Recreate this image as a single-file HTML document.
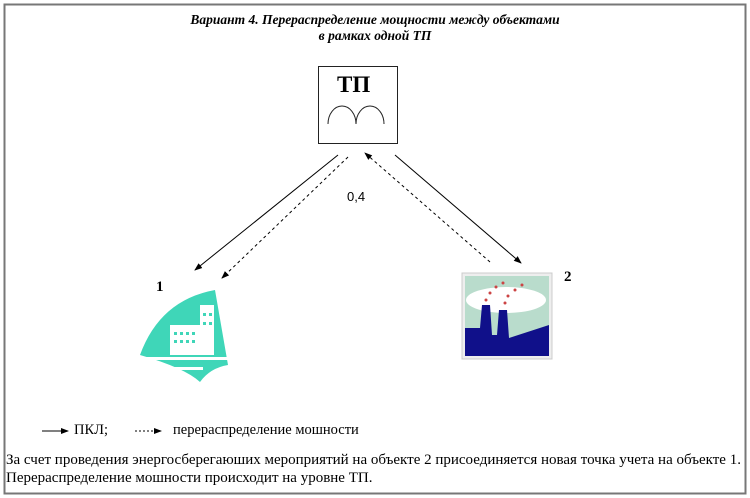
<!DOCTYPE html>
<html><head><meta charset="utf-8"><style>
body{margin:0;background:#fff;width:750px;height:498px;overflow:hidden;position:relative;font-family:"Liberation Serif",serif}
.t{position:absolute;white-space:nowrap}
</style></head><body>
<svg width="750" height="498" style="position:absolute;left:0;top:0">
<defs>
<marker id="a" markerWidth="8" markerHeight="8" refX="7" refY="4" orient="auto" markerUnits="userSpaceOnUse"><path d="M0,1 L8,4 L0,7z" fill="#000"/></marker>
</defs>
<rect x="4.5" y="4.5" width="741" height="489" fill="none" stroke="#777" stroke-width="2"/>
<rect x="318.5" y="66.5" width="79" height="77" fill="#fff" stroke="#222" stroke-width="1"/>
<path d="M328,124 A14,18 0 0 1 356,124 A14,18 0 0 1 384,124" fill="none" stroke="#222" stroke-width="1"/>
<line x1="338" y1="155" x2="195" y2="270" stroke="#000" marker-end="url(#a)"/>
<line x1="348" y1="157" x2="222" y2="278" stroke="#000" stroke-dasharray="3,3" marker-end="url(#a)"/>
<line x1="490" y1="262" x2="365" y2="153" stroke="#000" stroke-dasharray="3,3" marker-end="url(#a)"/>
<line x1="395" y1="155" x2="521" y2="263" stroke="#000" marker-end="url(#a)"/>
<path d="M140,355 Q160,300 215,290 L228,365 Q210,368 200,382 Q185,368 140,355z" fill="#3fd6b8"/>
<g fill="#fff">
<rect x="200" y="305" width="14" height="50"/><rect x="170" y="325" width="32" height="30"/>
</g>
<g fill="#3fd6b8">
<rect x="203" y="313" width="3" height="3"/><rect x="209" y="313" width="3" height="3"/>
<rect x="203" y="322" width="3" height="3"/><rect x="209" y="322" width="3" height="3"/>
<rect x="174" y="332" width="3" height="3"/><rect x="180" y="332" width="3" height="3"/><rect x="186" y="332" width="3" height="3"/><rect x="192" y="332" width="3" height="3"/>
<rect x="174" y="340" width="3" height="3"/><rect x="180" y="340" width="3" height="3"/><rect x="186" y="340" width="3" height="3"/><rect x="192" y="340" width="3" height="3"/>
</g>
<rect x="140" y="357" width="88" height="3" fill="#fff"/>
<rect x="158" y="367" width="45" height="3" fill="#fff"/>
<rect x="462" y="273" width="90" height="86" fill="#eee" stroke="#ccc"/>
<rect x="465" y="276" width="84" height="80" fill="#b9dccc"/>
<ellipse cx="506" cy="300" rx="40" ry="13" fill="#fff"/>
<path d="M465,356 L465,328 L480,328 L482,305 L490,305 L492,335 L497,335 L499,310 L507,310 L509,338 L549,325 L549,356z" fill="#10108a"/>
<g fill="#c44">
<circle cx="486" cy="300" r="1.5"/><circle cx="490" cy="293" r="1.5"/><circle cx="496" cy="287" r="1.5"/><circle cx="503" cy="283" r="1.5"/>
<circle cx="505" cy="303" r="1.5"/><circle cx="508" cy="296" r="1.5"/><circle cx="515" cy="290" r="1.5"/><circle cx="522" cy="285" r="1.5"/>
</g>
<line x1="42" y1="431" x2="68" y2="431" stroke="#000" marker-end="url(#a)"/>
<line x1="135" y1="431" x2="161" y2="431" stroke="#000" stroke-dasharray="2,2" marker-end="url(#a)"/>
</svg>
<div class="t" style="left:0;width:750px;text-align:center;top:12px;font-size:13.5px;font-weight:bold;font-style:italic;line-height:16px">Вариант 4. Перераспределение мощности между объектами<br>в рамках одной ТП</div>
<div class="t" style="left:337px;top:72px;font-size:23px;font-weight:bold">ТП</div>
<div class="t" style="left:347px;top:189px;font-size:13px;font-family:'Liberation Sans',sans-serif">0,4</div>
<div class="t" style="left:156px;top:279px;font-size:15px;font-weight:bold">1</div>
<div class="t" style="left:564px;top:269px;font-size:15px;font-weight:bold">2</div>
<div class="t" style="left:74px;top:422px;font-size:14.5px">ПКЛ;</div>
<div class="t" style="left:173px;top:422px;font-size:14.5px">перераспределение мошности</div>
<div class="t" style="left:6px;top:451px;font-size:15px;line-height:18px;background:#fff">За счет проведения энергосберегаюших мероприятий на объекте 2 присоединяется новая точка учета на объекте 1.<br>Перераспределение мошности происходит на уровне ТП.</div>
</body></html>
